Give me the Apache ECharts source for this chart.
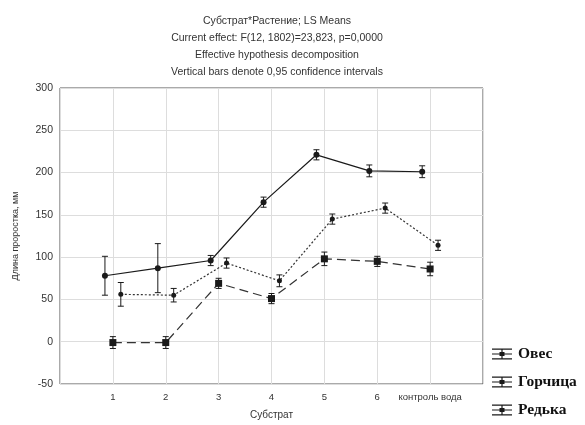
<!DOCTYPE html>
<html>
<head>
<meta charset="utf-8">
<script src="https://cdn.jsdelivr.net/npm/echarts@6/dist/echarts.min.js"></script>
<style>
  html, body { margin: 0; padding: 0; background: #fff; }
  #main { width: 585px; height: 425px; }
</style>
</head>
<body>
<div id="main"></div>
<script>
// категории по оси X и средние значения с полуширинами доверительных интервалов
var categories = ['1', '2', '3', '4', '5', '6', 'контроль вода'];
var seriesNames = ['Овес', 'Горчица', 'Редька'];

var ovesMean = [78, 87, 96, 165, 221, 202, 201];
var ovesErr = [23, 29, 6, 6, 6, 7, 7];
var gorchMean = [-1, -1, 69, 51, 98, 95, 86];
var gorchErr = [7, 7, 6, 6, 8, 6, 8];
var redkaMean = [56, 55, 93, 72, 145, 158, 114];
var redkaErr = [14, 8, 6, 7, 6, 6, 6];

var yTicks = [-50, 0, 50, 100, 150, 200, 250, 300];

var chart = echarts.init(document.getElementById('main'));

// небольшое смещение точек, как в Statistica
function points(mean, shift) {
    return mean.map(function (v, i) { return [i + 1 + shift, v]; });
}
function bars(mean, err, shift) {
    return mean.map(function (v, i) { return [i + 1 + shift, v - err[i], v + err[i]]; });
}

var ink = '#1a1a1a';

function renderErr(params, api) {
    var x = api.value(0);
    var lo = api.coord([x, api.value(1)]);
    var hi = api.coord([x, api.value(2)]);
    var w = 3;
    var st = { stroke: ink, lineWidth: 1 };
    return {
        type: 'group',
        children: [
            { type: 'line', shape: { x1: lo[0], y1: lo[1], x2: hi[0], y2: hi[1] }, style: st },
            { type: 'line', shape: { x1: lo[0] - w, y1: lo[1], x2: lo[0] + w, y2: lo[1] }, style: st },
            { type: 'line', shape: { x1: hi[0] - w, y1: hi[1], x2: hi[0] + w, y2: hi[1] }, style: st }
        ]
    };
}

// значок легенды: три горизонтальные черты и маркер посередине
var legendIcon = 'path://M0,0h20v1.2h-20z M0,4.9h20v1.2h-20z M0,9.8h20v1.2h-20z M9.4,0h1.2v11h-1.2z M7.5,3.5h5v4h-5z';

var option = {
    animation: false,
    title: {
        text: 'Субстрат*Растение; LS Means\nCurrent effect: F(12, 1802)=23,823, p=0,0000\nEffective hypothesis decomposition\nVertical bars denote 0,95 confidence intervals',
        left: 272,
        textAlign: 'center',
        top: 8,
        textStyle: {
            fontFamily: 'Liberation Sans',
            fontSize: 10.5,
            fontWeight: 'normal',
            color: '#333',
            lineHeight: 17
        }
    },
    legend: {
        orient: 'vertical',
        left: 492,
        top: 346,
        padding: 0,
        itemGap: 12,
        itemWidth: 20,
        itemHeight: 11,
        data: seriesNames.map(function (n) { return { name: n, icon: legendIcon }; }),
        textStyle: {
            fontFamily: 'Liberation Serif',
            fontWeight: 'bold',
            fontSize: 15.5,
            color: '#111',
            padding: [0, 0, 0, 1]
        },
        itemStyle: { color: ink, borderWidth: 0 },
        lineStyle: { width: 0 }
    },
    grid: {
        left: 60,
        right: 102,
        top: 88,
        bottom: 40,
        show: true,
        borderColor: '#555',
        borderWidth: 1
    },
    xAxis: {
        type: 'value',
        min: 0,
        max: 8,
        interval: 1,
        name: 'Субстрат',
        nameLocation: 'middle',
        nameGap: 26,
        nameTextStyle: { fontFamily: 'Liberation Sans', fontSize: 10, color: '#333' },
        axisLine: { show: false },
        axisTick: { show: false },
        axisLabel: {
            fontFamily: 'Liberation Sans',
            fontSize: 9.5,
            color: '#333',
            margin: 8,
            formatter: function (v) {
                return (v >= 1 && v <= categories.length) ? categories[v - 1] : '';
            }
        },
        splitLine: { show: true, lineStyle: { color: '#ddd' } }
    },
    yAxis: {
        type: 'value',
        min: yTicks[0],
        max: yTicks[yTicks.length - 1],
        interval: 50,
        name: 'Длина проростка, мм',
        nameLocation: 'middle',
        nameGap: 40,
        nameTextStyle: { fontFamily: 'Liberation Sans', fontSize: 9, color: '#333' },
        axisLine: { show: false },
        axisTick: { show: false },
        axisLabel: { fontFamily: 'Liberation Sans', fontSize: 10.5, color: '#333', margin: 7 },
        splitLine: { show: true, lineStyle: { color: '#ddd' } }
    },
    series: [
        {
            name: 'Овес',
            type: 'line',
            data: points(ovesMean, -0.15),
            symbol: 'circle',
            symbolSize: 6,
            itemStyle: { color: ink },
            lineStyle: { color: ink, width: 1.2, type: 'solid' },
            z: 3
        },
        {
            name: 'Горчица',
            type: 'line',
            data: points(gorchMean, 0),
            symbol: 'rect',
            symbolSize: 7,
            itemStyle: { color: ink },
            lineStyle: { color: '#333', width: 1.2, type: [9, 5] },
            z: 3
        },
        {
            name: 'Редька',
            type: 'line',
            data: points(redkaMean, 0.15),
            symbol: 'circle',
            symbolSize: 5,
            itemStyle: { color: ink },
            lineStyle: { color: '#333', width: 1.2, type: [2, 2] },
            z: 3
        },
        {
            type: 'custom',
            renderItem: renderErr,
            data: bars(ovesMean, ovesErr, -0.15),
            encode: { x: 0, y: [1, 2] },
            z: 2
        },
        {
            type: 'custom',
            renderItem: renderErr,
            data: bars(gorchMean, gorchErr, 0),
            encode: { x: 0, y: [1, 2] },
            z: 2
        },
        {
            type: 'custom',
            renderItem: renderErr,
            data: bars(redkaMean, redkaErr, 0.15),
            encode: { x: 0, y: [1, 2] },
            z: 2
        }
    ]
};

chart.setOption(option);
</script>
</body>
</html>
